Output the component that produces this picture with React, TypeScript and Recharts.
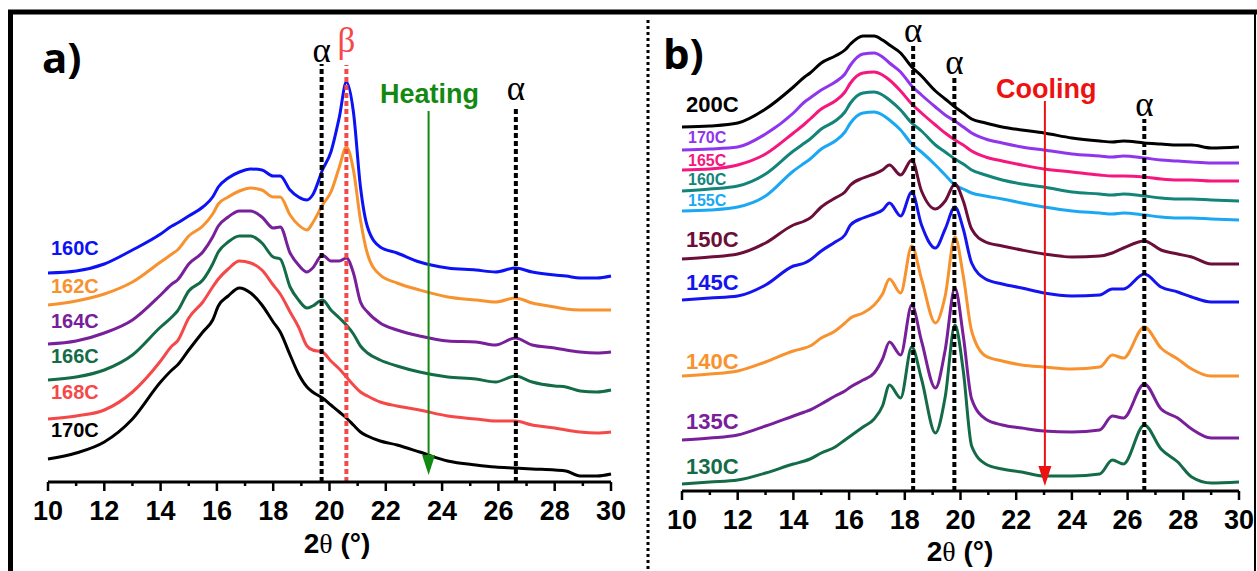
import React from 'react';
import { LineChart, Line, XAxis, YAxis, ReferenceLine, ReferenceDot } from 'recharts';

// 2-theta grid (degrees) for each panel
const xA = [10, 11, 12, 13, 14, 14.4, 14.6, 15, 15.5, 15.85, 16.05, 16.4, 16.8, 17.2, 17.6, 18.0, 18.25, 18.6, 18.9, 19.2, 19.4, 19.75, 20.05, 20.35, 20.6, 20.85, 21.1, 21.35, 21.8, 22.4, 23.2, 24.2, 25.2, 25.9, 26.6, 27.2, 28.0, 28.4, 28.9, 29.5, 30];
const xB = [10, 11, 12, 13, 14, 14.4, 14.6, 15, 15.5, 15.85, 16.05, 16.5, 16.9, 17.2, 17.45, 17.85, 18.25, 18.6, 19.1, 19.45, 19.8, 20.1, 20.4, 20.9, 21.5, 22.2, 23, 24, 25, 25.45, 25.85, 26.6, 27.2, 27.8, 28.3, 29, 30];

// panel a) heating, stacked intensities (a.u., offset)
const a160 = [209, 211, 218, 232, 248, 256, 259, 266, 275, 285, 295, 304, 310, 313, 312, 306, 306, 292, 285, 282, 287, 312, 330, 365, 400, 370, 295, 255, 235, 229, 220, 214, 212, 210, 214, 210, 207, 206, 204, 204, 206];
const a162 = [177, 181, 188, 200, 220, 228, 232, 246, 256, 268, 278, 285, 291, 294, 292, 285, 285, 267, 257, 252, 259, 277, 290, 315, 335, 312, 262, 228, 207, 199, 192, 185, 182, 180, 184, 179, 175, 173, 172, 172, 172];
const a164 = [138, 141, 149, 162, 187, 198, 202, 218, 230, 245, 256, 265, 271, 271, 265, 254, 255, 229, 217, 210, 214, 227, 221, 221, 224, 209, 180, 170, 159, 152, 146, 141, 140, 137, 144, 137, 134, 132, 130, 129, 130];
const a166 = [102, 105, 112, 127, 155, 165, 171, 191, 202, 218, 230, 240, 246, 246, 239, 225, 223, 195, 182, 174, 176, 182, 172, 164, 157, 148, 136, 129, 122, 116, 110, 105, 103, 100, 106, 100, 96, 95, 91, 90, 92];
const a168 = [63, 66, 72, 90, 121, 136, 141, 164, 180, 195, 203, 213, 221, 219, 212, 197, 188, 170, 155, 136, 132, 130, 121, 113, 105, 97, 90, 86, 80, 76, 72, 66, 63, 61, 61, 57, 54, 52, 50, 49, 50];
const a170 = [23, 29, 40, 63, 100, 112, 117, 132, 150, 162, 176, 186, 194, 189, 177, 160, 150, 127, 108, 95, 90, 84, 77, 70, 64, 57, 50, 46, 41, 37, 30, 21, 17, 15, 14, 13, 12, 11, 6, 6, 8];

// panel b) cooling
const b200 = [364, 365, 368, 382, 404, 414, 418, 428, 435, 441, 447, 455, 455, 451, 446, 438, 424, 415, 400, 392, 384, 378, 372, 368, 364, 361, 358, 353, 350, 349, 350, 348, 347, 346, 346, 343, 344];
const b170 = [341, 342, 344, 357, 378, 389, 393, 401, 409, 417, 426, 437, 438, 434, 428, 419, 405, 396, 384, 376, 370, 364, 358, 352, 348, 344, 341, 337, 335, 334, 335, 333, 331, 330, 329, 328, 328];
const b165 = [321, 322, 326, 337, 358, 367, 372, 382, 390, 399, 408, 418, 419, 416, 411, 400, 387, 378, 366, 358, 351, 346, 340, 334, 330, 326, 322, 319, 316, 315, 315, 314, 312, 311, 311, 310, 310];
const b160 = [300, 302, 305, 317, 340, 348, 352, 362, 370, 379, 388, 398, 399, 396, 391, 381, 368, 360, 346, 339, 332, 327, 321, 316, 311, 307, 304, 299, 297, 296, 297, 295, 293, 292, 292, 291, 290];
const b155 = [280, 281, 284, 295, 320, 328, 332, 342, 350, 359, 368, 378, 379, 376, 371, 361, 347, 339, 326, 316, 306, 302, 298, 295, 292, 288, 284, 280, 278, 277, 278, 276, 274, 273, 273, 272, 271];
const b150 = [232, 234, 237, 248, 266, 270, 273, 284, 293, 299, 306, 313, 317, 321, 326, 316, 331, 300, 282, 290, 307, 290, 262, 249, 245, 241, 237, 234, 235, 238, 243, 250, 241, 237, 234, 227, 227];
const b145 = [191, 193, 195, 206, 225, 228, 231, 240, 249, 256, 266, 273, 277, 281, 288, 275, 299, 266, 243, 262, 284, 262, 228, 212, 207, 203, 198, 195, 196, 202, 202, 217, 204, 199, 194, 189, 189];
const b140 = [115, 117, 120, 129, 140, 143, 145, 153, 160, 168, 173, 178, 186, 197, 212, 198, 245, 212, 168, 195, 254, 215, 160, 135, 130, 126, 124, 122, 124, 136, 133, 164, 143, 132, 122, 115, 115];
const b135 = [51, 53, 56, 65, 75, 79, 81, 87, 95, 100, 104, 111, 118, 132, 149, 136, 186, 150, 103, 141, 203, 155, 92, 72, 66, 63, 60, 59, 61, 75, 73, 107, 82, 73, 62, 53, 53];
const b130 = [7, 9, 11, 18, 27, 30, 32, 38, 44, 51, 55, 64, 72, 85, 106, 93, 144, 112, 58, 94, 166, 120, 45, 27, 22, 19, 15, 15, 17, 31, 27, 66, 42, 29, 14, 8, 9];

const xTicks = [10, 11, 12, 13, 14, 15, 16, 17, 18, 19, 20, 21, 22, 23, 24, 25, 26, 27, 28, 29, 30];

const seriesA = [
  { key: '160C', values: a160, color: '#0b12f5' },
  { key: '162C', values: a162, color: '#f7922e' },
  { key: '164C', values: a164, color: '#77209a' },
  { key: '166C', values: a166, color: '#146b48' },
  { key: '168C', values: a168, color: '#f54848' },
  { key: '170C', values: a170, color: '#000000' },
];
const seriesB = [
  { key: '200C', values: b200, color: '#000000' },
  { key: '170C', values: b170, color: '#8f35ee' },
  { key: '165C', values: b165, color: '#f5167e' },
  { key: '160C', values: b160, color: '#12847a' },
  { key: '155C', values: b155, color: '#1aa8f3' },
  { key: '150C', values: b150, color: '#6b0f3a' },
  { key: '145C', values: b145, color: '#1414f0' },
  { key: '140C', values: b140, color: '#f7922e' },
  { key: '135C', values: b135, color: '#77209a' },
  { key: '130C', values: b130, color: '#146b48' },
];

const rowsA = xA.map((x, i) => {
  const r: any = { x };
  seriesA.forEach((s) => (r[s.key] = s.values[i]));
  return r;
});
const rowsB = xB.map((x, i) => {
  const r: any = { x };
  seriesB.forEach((s) => (r[s.key] = s.values[i]));
  return r;
});

// peak markers
const alphaA = [19.72, 26.62];
const betaA = 20.6;
const alphaB = [18.3, 19.78, 26.6];
const heatingX = 23.52;
const coolingX = 23.03;

const SANS = 'Liberation Sans, Arial, sans-serif';
const SERIF = 'Liberation Serif, Times New Roman, serif';

const Tick = (props: any) => {
  const { x, y, payload } = props;
  const major = payload.value % 2 === 0;
  return (
    <g>
      <line x1={x} x2={x} y1={y} y2={y + (major ? 9 : 4)} stroke="#000" strokeWidth={2.5} />
      {major && (
        <text x={x} y={y + 38} textAnchor="middle" fontSize={27} fontWeight="bold" fontFamily={SANS} fill="#000">
          {payload.value}
        </text>
      )}
    </g>
  );
};

const arrowHead = (color: string) => (p: any) => (
  <polygon points={`${p.cx},${p.cy} ${p.cx - 6.5},${p.cy - 20} ${p.cx + 6.5},${p.cy - 20}`} fill={color} />
);

const dotted = { strokeWidth: 4, strokeDasharray: '5 3' };

// page-x helpers for annotations, same mapping as the chart scales
const pxA = (d: number) => 48 + ((d - 10) * 563) / 20;
const pxB = (d: number) => 682 + ((d - 10) * 557) / 20;

const Title = ({ x, y }: { x: number; y: number }) => (
  <text x={x} y={y} textAnchor="middle" fontSize={28} fontWeight="bold" fontFamily={SANS} fill="#000">
    2<tspan fontFamily={SERIF} fontWeight="normal">θ</tspan> (°)
  </text>
);

export default function App() {
  return (
    <div style={{ position: 'absolute', left: 0, top: 0, width: 1257, height: 571, background: '#fff', overflow: 'hidden' }}>
      <div style={{ position: 'absolute', left: 0, top: 0 }}>
        <LineChart width={640} height={571} data={rowsA} margin={{ top: 12, right: 29, left: 48, bottom: 29 }}>
          <XAxis dataKey="x" type="number" domain={[10, 30]} ticks={xTicks} interval={0} height={60}
            tickSize={0} tickMargin={0} tickLine={false} tick={<Tick />} axisLine={{ stroke: '#000', strokeWidth: 3 }} />
          <YAxis hide type="number" domain={[0, 470]} allowDataOverflow />
          {seriesA.map((s) => (
            <Line key={s.key} dataKey={s.key} stroke={s.color} strokeWidth={3} dot={false} type="monotone" isAnimationActive={false} />
          ))}
          <ReferenceLine segment={[{ x: alphaA[0], y: 0 }, { x: alphaA[0], y: 418 }]} stroke="#000" {...dotted} />
          <ReferenceLine segment={[{ x: betaA, y: 0 }, { x: betaA, y: 417 }]} stroke="#f54848" {...dotted} />
          <ReferenceLine segment={[{ x: alphaA[1], y: 0 }, { x: alphaA[1], y: 376 }]} stroke="#000" {...dotted} />
          <ReferenceLine segment={[{ x: heatingX, y: 20 }, { x: heatingX, y: 371 }]} stroke="#128a12" strokeWidth={2} />
          <ReferenceDot x={heatingX} y={7} r={0} shape={arrowHead('#128a12')} />
        </LineChart>
      </div>
      <div style={{ position: 'absolute', left: 640, top: 0 }}>
        <LineChart width={617} height={571} data={rowsB} margin={{ top: 21, right: 18, left: 42, bottom: 20 }}>
          <XAxis dataKey="x" type="number" domain={[10, 30]} ticks={xTicks} interval={0} height={60}
            tickSize={0} tickMargin={0} tickLine={false} tick={<Tick />} axisLine={{ stroke: '#000', strokeWidth: 3 }} />
          <YAxis hide type="number" domain={[0, 470]} allowDataOverflow />
          {seriesB.map((s) => (
            <Line key={s.key} dataKey={s.key} stroke={s.color} strokeWidth={3} dot={false} type="monotone" isAnimationActive={false} />
          ))}
          <ReferenceLine segment={[{ x: alphaB[0], y: 0 }, { x: alphaB[0], y: 448 }]} stroke="#000" {...dotted} />
          <ReferenceLine segment={[{ x: alphaB[1], y: 0 }, { x: alphaB[1], y: 416 }]} stroke="#000" {...dotted} />
          <ReferenceLine segment={[{ x: alphaB[2], y: 0 }, { x: alphaB[2], y: 372 }]} stroke="#000" {...dotted} />
          <ReferenceLine segment={[{ x: coolingX, y: 20 }, { x: coolingX, y: 390 }]} stroke="#ee1111" strokeWidth={2} />
          <ReferenceDot x={coolingX} y={5} r={0} shape={arrowHead('#ee1111')} />
        </LineChart>
      </div>
      <svg width={1257} height={571} style={{ position: 'absolute', left: 0, top: 0, pointerEvents: 'none' }}>
        {/* frame */}
        <line x1={8} x2={1257} y1={12} y2={12} stroke="#000" strokeWidth={5} />
        <line x1={10.5} x2={10.5} y1={10} y2={571} stroke="#000" strokeWidth={5} />
        <line x1={1255} x2={1255} y1={10} y2={571} stroke="#000" strokeWidth={2} />
        <line x1={648} x2={648} y1={20} y2={571} stroke="#000" strokeWidth={3} strokeDasharray="3 3" />

        <text x={42} y={73} fontSize={42} fontWeight="bold" fontFamily="Open Sans, sans-serif" fill="#000">a)</text>
        <text x={663} y={69} fontSize={42} fontWeight="bold" fontFamily="Open Sans, sans-serif" fill="#000">b)</text>

        <g fontFamily={SERIF} fontSize={35} textAnchor="middle">
          <text x={pxA(alphaA[0])} y={62}>α</text>
          <text x={pxA(betaA)} y={52} fill="#f54848">β</text>
          <text x={pxA(alphaA[1])} y={100}>α</text>
          <text x={pxB(alphaB[0])} y={42}>α</text>
          <text x={pxB(alphaB[1])} y={74}>α</text>
          <text x={pxB(alphaB[2])} y={116}>α</text>
        </g>

        <text x={380} y={103} fontSize={27} fontWeight="bold" fontFamily={SANS} fill="#128a12">Heating</text>
        <text x={996} y={98} fontSize={27} fontWeight="bold" fontFamily={SANS} fill="#ee1111">Cooling</text>

        <g fontFamily={SANS} fontWeight="bold" fontSize={20}>
          {[255, 293, 328, 363, 399, 437].map((y, i) => (
            <text key={i} x={51} y={y} fill={seriesA[i].color}>{seriesA[i].key}</text>
          ))}
        </g>
        <g fontFamily={SANS} fontWeight="bold">
          {[112, 143, 166, 184.5, 205.5, 247, 290, 369, 429, 474].map((y, i) => (
            <text key={i} x={i >= 1 && i <= 4 ? 688 : 686} y={y} fontSize={i >= 1 && i <= 4 ? 16 : 22} fill={seriesB[i].color}>
              {seriesB[i].key}
            </text>
          ))}
        </g>

        <Title x={337} y={553} />
        <Title x={960} y={561} />
      </svg>
    </div>
  );
}
